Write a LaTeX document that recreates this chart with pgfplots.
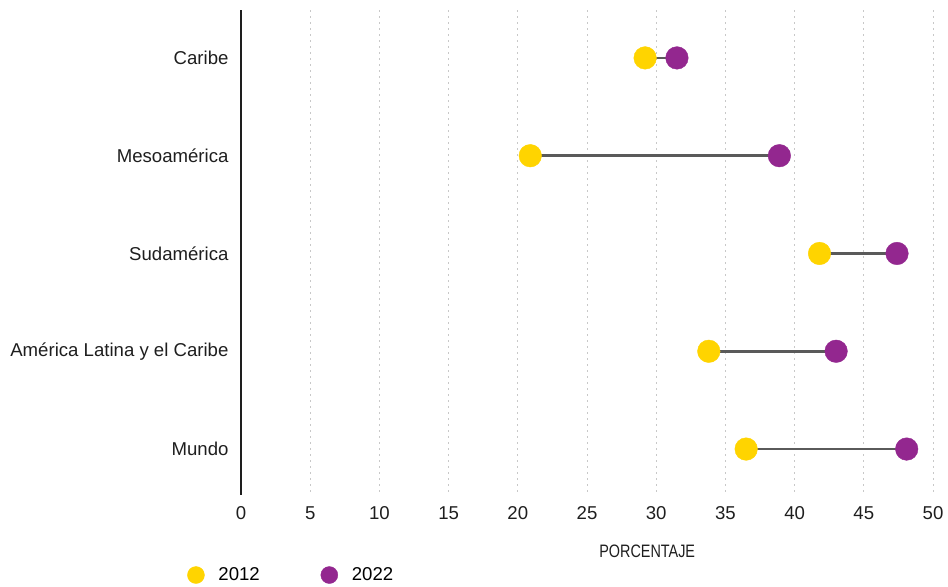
\documentclass[border=0pt]{standalone}
\usepackage{pgfplots}
\pgfplotsset{compat=1.18}
\usepackage{pgfplotstable}
\usepackage{fontspec}
\setmainfont{Liberation Sans}
\definecolor{amarillo}{HTML}{FFD400}
\definecolor{morado}{HTML}{93278F}
\definecolor{linea}{HTML}{5A5A5A}
\definecolor{rejilla}{HTML}{C8C8C8}
\definecolor{texto}{HTML}{1E1E1E}

% región, porcentaje 2012, porcentaje 2022
\pgfplotstableread{
region a2012 a2022
Caribe 29.2 31.5
Mesoamerica 20.9 38.9
Sudamerica 41.8 47.4
ALC 33.8 43.0
Mundo 36.5 48.1
}\datos

\begin{document}
\begin{tikzpicture}[font=\fontsize{18.6}{22}\selectfont]
\begin{axis}[
    scale only axis,
    width=692pt, height=485pt,
    xmin=0, xmax=50,
    ymin=-0.49, ymax=4.47,
    y dir=reverse,
    axis line style={draw=none},
    major tick length=0pt,
    xtick={5,10,...,50},
    extra x ticks={0},
    extra x tick style={grid style={solid, texto, line width=2.8pt}},
    xmajorgrids,
    grid style={rejilla, line width=1pt, dash pattern=on 1.5pt off 4.5pt},
    /pgf/number format/assume math mode=true,
    ytick={0,1,2,3,4},
    yticklabels={Caribe, Mesoamérica, Sudamérica, América Latina y el Caribe, Mundo},
    yticklabel style={anchor=east, xshift=-9pt, text=texto},
    xticklabel style={text=texto, yshift=-8pt},
    xlabel={PORCENTAJE},
    xlabel style={at={(rel axis cs:0.587,0)}, anchor=center, yshift=-56pt,
        xscale=0.8, font=\fontsize{18}{20}\selectfont, text=texto},
    legend columns=2,
    legend style={at={(rel axis cs:-0.082,-0.165)}, anchor=west, draw=none, fill=none,
        /tikz/every odd column/.append style={column sep=12pt},
        /tikz/every even column/.append style={column sep=59pt}},
    legend image post style={mark size=8.5pt},
    clip=false,
]
\addplot[forget plot, only marks, mark=none,
    error bars/.cd, x dir=plus, x explicit, error mark=none,
    error bar style={line width=2.6pt, color=linea}]
    table[x=a2012, y expr=\coordindex, x error expr=\thisrow{a2022}-\thisrow{a2012}] {\datos};
\addplot[only marks, color=amarillo, mark=*, mark size=11.3pt,
    mark options={draw=amarillo, fill=amarillo}]
    table[x=a2012, y expr=\coordindex] {\datos};
\addlegendentry{2012}
\addplot[only marks, color=morado, mark=*, mark size=11.3pt,
    mark options={draw=morado, fill=morado}]
    table[x=a2022, y expr=\coordindex] {\datos};
\addlegendentry{2022}
\coordinate (bl) at (axis cs:0,4.47);
\coordinate (tr) at (axis cs:50,-0.49);
\end{axis}
\pgfresetboundingbox
\path[use as bounding box] ([shift={(-241pt,-91pt)}]bl) rectangle ([shift={(15pt,10pt)}]tr);
\end{tikzpicture}
\end{document}
